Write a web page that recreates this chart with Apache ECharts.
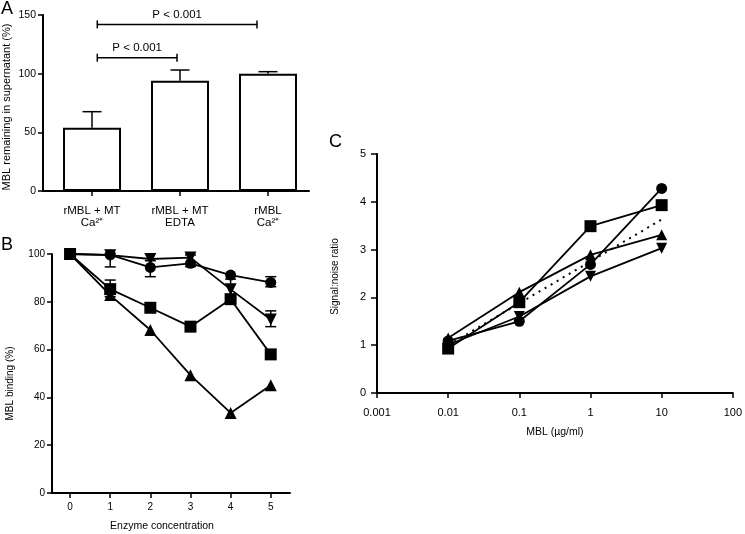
<!DOCTYPE html>
<html><head><meta charset="utf-8">
<script src="https://cdn.jsdelivr.net/npm/echarts@6/dist/echarts.min.js"></script>
<style>html,body{margin:0;padding:0;background:#fff}#c{width:745px;height:534px}</style>
</head><body><div id="c"></div>
<script>
// ---------- Panel A ----------
const aCategories = ['rMBL + MT\nCa²⁺', 'rMBL + MT\nEDTA', 'rMBL\nCa²⁺'];
const aPositions = [0, 1, 2];
const aMeans = [53.9, 94, 100];
const aErrUpper = [67.6, 103.1, 101.7];
const aBracketFrom = [0.06, 0.06];
const aBracketTo = [1.875, 0.966];
const aBracketY = [142, 113.6];
const aBracketLabels = ['P < 0.001', 'P < 0.001'];

// ---------- Panel B ----------
const bX = [0, 1, 2, 3, 4, 5];
const bCircle = [100, 99.6, 94.4, 96.1, 91.2, 88.1];
const bDown = [100, 99.5, 97.9, 98.5, 85.2, 72.6];
const bSquare = [100, 85.3, 77.5, 69.6, 81.1, 58];
const bUp = [100, 82.8, 68.2, 49.3, 33.5, 45.1];
const bErrX = [1, 1, 2, 3, 4, 5, 5];
const bErrLow = [94.6, 82.1, 90.5, 94.7, 81, 86.3, 69.6];
const bErrHigh = [100.3, 89.1, 97.2, 99.6, 89.5, 90.5, 76.2];

// ---------- Panel C ----------
const cX = [0.01, 0.1, 1, 10];
const cCircle = [1.09, 1.5, 2.69, 4.28];
const cSquare = [0.93, 1.9, 3.49, 3.93];
const cUp = [1.15, 2.11, 2.89, 3.31];
const cDown = [1.01, 1.6, 2.44, 3.03];
const cFitX = [0.01, 10];
const cFitY = [1.0, 3.63];

const FONT = 'Liberation Sans, Arial, Helvetica, sans-serif';
const pair = (xs, ys) => xs.map((x, i) => [x, ys[i]]);

function errRender(capW, upperOnly) {
  return function (params, api) {
    const x = api.value(0), lo = api.value(1), hi = api.value(2);
    const pLo = api.coord([x, lo]), pHi = api.coord([x, hi]);
    const s = { stroke: '#000', lineWidth: 1.5 };
    const ch = [
      { type: 'line', shape: { x1: pLo[0], y1: pLo[1], x2: pHi[0], y2: pHi[1] }, style: s },
      { type: 'line', shape: { x1: pHi[0] - capW / 2, y1: pHi[1], x2: pHi[0] + capW / 2, y2: pHi[1] }, style: s }
    ];
    if (!upperOnly) ch.push({ type: 'line', shape: { x1: pLo[0] - capW / 2, y1: pLo[1], x2: pLo[0] + capW / 2, y2: pLo[1] }, style: s });
    return { type: 'group', children: ch };
  };
}

function bracketRender(params, api) {
  const f = api.value(0), t = api.value(1), y = api.value(2);
  const p1 = api.coord([f, y]), p2 = api.coord([t, y]);
  const s = { stroke: '#000', lineWidth: 1.5 };
  const label = aBracketLabels[params.dataIndex];
  return { type: 'group', children: [
    { type: 'line', shape: { x1: p1[0], y1: p1[1], x2: p2[0], y2: p2[1] }, style: s },
    { type: 'line', shape: { x1: p1[0], y1: p1[1] - 4, x2: p1[0], y2: p1[1] + 4 }, style: s },
    { type: 'line', shape: { x1: p2[0], y1: p2[1] - 4, x2: p2[0], y2: p2[1] + 4 }, style: s },
    { type: 'text', x: (p1[0] + p2[0]) / 2, y: p1[1] - 10,
      style: { text: label, font: '11.5px ' + FONT, fill: '#000', textAlign: 'center', textVerticalAlign: 'middle', align: 'center', verticalAlign: 'middle' } }
  ]};
}

const axisLine = { show: true, onZero: false, lineStyle: { color: '#000', width: 2 } };
const tick = (len) => ({ show: true, inside: false, length: len, lineStyle: { color: '#000', width: 1.5 } });

const chart = echarts.init(document.getElementById('c'), null, { renderer: 'canvas' });
chart.setOption({
  backgroundColor: '#fff',
  animation: false,
  textStyle: { fontFamily: FONT, color: '#000' },
  graphic: [
    { type: 'text', left: 1, top: 0, style: { text: 'A', font: '18px ' + FONT, fill: '#000' } },
    { type: 'text', left: 1, top: 236, style: { text: 'B', font: '18px ' + FONT, fill: '#000' } },
    { type: 'text', left: 329, top: 133, style: { text: 'C', font: '18px ' + FONT, fill: '#000' } }
  ],
  grid: [
    { left: 43, top: 15, width: 266, height: 176 },
    { left: 52, top: 254, width: 238, height: 239 },
    { left: 377, top: 154, width: 359, height: 239 }
  ],
  xAxis: [
    { gridIndex: 0, type: 'value', min: -0.557, max: 2.466, splitLine: { show: false },
      axisLine: axisLine, axisTick: Object.assign(tick(5), { customValues: aPositions }),
      axisLabel: { customValues: aPositions, margin: 14, fontSize: 11.5, lineHeight: 12, color: '#000', fontFamily: FONT,
        formatter: (v) => aCategories[Math.round(v)] } },
    { gridIndex: 1, type: 'value', min: -0.45, max: 5.48, splitLine: { show: false },
      axisLine: axisLine, axisTick: Object.assign(tick(5), { customValues: bX }),
      axisLabel: { customValues: bX, margin: 9, fontSize: 10, color: '#000', fontFamily: FONT },
      name: 'Enzyme concentration', nameLocation: 'middle', nameGap: 28,
      nameTextStyle: { fontSize: 10.5, color: '#000', fontFamily: FONT, padding: [0, 18, 0, 0] } },
    { gridIndex: 2, type: 'log', logBase: 10, min: 0.001, max: 100, splitLine: { show: false },
      minorTick: { show: false },
      axisLine: axisLine, axisTick: tick(5),
      axisLabel: { margin: 14, fontSize: 11, color: '#000', fontFamily: FONT, showMinLabel: true, showMaxLabel: true },
      name: 'MBL (µg/ml)', nameLocation: 'middle', nameGap: 34,
      nameTextStyle: { fontSize: 10.5, color: '#000', fontFamily: FONT } }
  ],
  yAxis: [
    { gridIndex: 0, type: 'value', min: 0, max: 150, interval: 50, splitLine: { show: false },
      axisLine: axisLine, axisTick: tick(5),
      axisLabel: { margin: 7, fontSize: 10.5, color: '#000', fontFamily: FONT },
      name: 'MBL remaining in supernatant (%)', nameLocation: 'middle', nameGap: 31,
      nameTextStyle: { fontSize: 11, color: '#000', fontFamily: FONT, padding: [0, 8, 0, 0] } },
    { gridIndex: 1, type: 'value', min: 0, max: 100, interval: 20, splitLine: { show: false },
      axisLine: axisLine, axisTick: tick(5),
      axisLabel: { margin: 7, fontSize: 10, color: '#000', fontFamily: FONT },
      name: 'MBL binding (%)', nameLocation: 'middle', nameGap: 37,
      nameTextStyle: { fontSize: 10, color: '#000', fontFamily: FONT, padding: [0, 20, 0, 0] } },
    { gridIndex: 2, type: 'value', min: 0, max: 5, interval: 1, splitLine: { show: false },
      axisLine: axisLine, axisTick: tick(6),
      axisLabel: { margin: 11, fontSize: 11, color: '#000', fontFamily: FONT },
      name: 'Signal:noise ratio', nameLocation: 'middle', nameGap: 37,
      nameTextStyle: { fontSize: 10, color: '#000', fontFamily: FONT, padding: [0, 6, 0, 0] } }
  ],
  series: [
    // Panel A
    { type: 'custom', xAxisIndex: 0, yAxisIndex: 0, renderItem: errRender(19, true), z: 1,
      encode: { x: 0, y: [1, 2] },
      data: aPositions.map((x, i) => [x, aMeans[i], aErrUpper[i]]) },
    { type: 'bar', xAxisIndex: 0, yAxisIndex: 0, barWidth: 58, z: 2,
      itemStyle: { color: '#fff', borderColor: '#000', borderWidth: 2 },
      data: pair(aPositions, aMeans) },
    { type: 'custom', xAxisIndex: 0, yAxisIndex: 0, renderItem: bracketRender, z: 3,
      encode: { x: [0, 1], y: 2 },
      data: aBracketFrom.map((f, i) => [f, aBracketTo[i], aBracketY[i]]) },
    // Panel B
    { type: 'custom', xAxisIndex: 1, yAxisIndex: 1, renderItem: errRender(11, false), z: 1,
      encode: { x: 0, y: [1, 2] },
      data: bErrX.map((x, i) => [x, bErrLow[i], bErrHigh[i]]) },
    { type: 'line', xAxisIndex: 1, yAxisIndex: 1, data: pair(bX, bUp), symbol: 'triangle', symbolSize: 12,
      lineStyle: { color: '#000', width: 1.8 }, itemStyle: { color: '#000' } },
    { type: 'line', xAxisIndex: 1, yAxisIndex: 1, data: pair(bX, bSquare), symbol: 'rect', symbolSize: 12,
      lineStyle: { color: '#000', width: 1.8 }, itemStyle: { color: '#000' } },
    { type: 'line', xAxisIndex: 1, yAxisIndex: 1, data: pair(bX, bDown), symbol: 'triangle', symbolRotate: 180, symbolSize: 12,
      lineStyle: { color: '#000', width: 1.8 }, itemStyle: { color: '#000' } },
    { type: 'line', xAxisIndex: 1, yAxisIndex: 1, data: pair(bX, bCircle), symbol: 'circle', symbolSize: 11,
      lineStyle: { color: '#000', width: 1.8 }, itemStyle: { color: '#000' } },
    // Panel C
    { type: 'line', xAxisIndex: 2, yAxisIndex: 2, data: pair(cFitX, cFitY), symbol: 'none',
      lineStyle: { color: '#000', width: 2, type: [2, 5] } },
    { type: 'line', xAxisIndex: 2, yAxisIndex: 2, data: pair(cX, cUp), symbol: 'triangle', symbolSize: 11,
      lineStyle: { color: '#000', width: 1.8 }, itemStyle: { color: '#000' } },
    { type: 'line', xAxisIndex: 2, yAxisIndex: 2, data: pair(cX, cDown), symbol: 'triangle', symbolRotate: 180, symbolSize: 11,
      lineStyle: { color: '#000', width: 1.8 }, itemStyle: { color: '#000' } },
    { type: 'line', xAxisIndex: 2, yAxisIndex: 2, data: pair(cX, cCircle), symbol: 'circle', symbolSize: 11,
      lineStyle: { color: '#000', width: 1.8 }, itemStyle: { color: '#000' } },
    { type: 'line', xAxisIndex: 2, yAxisIndex: 2, data: pair(cX, cSquare), symbol: 'rect', symbolSize: 12,
      lineStyle: { color: '#000', width: 1.8 }, itemStyle: { color: '#000' } }
  ]
});
</script>
</body></html>
